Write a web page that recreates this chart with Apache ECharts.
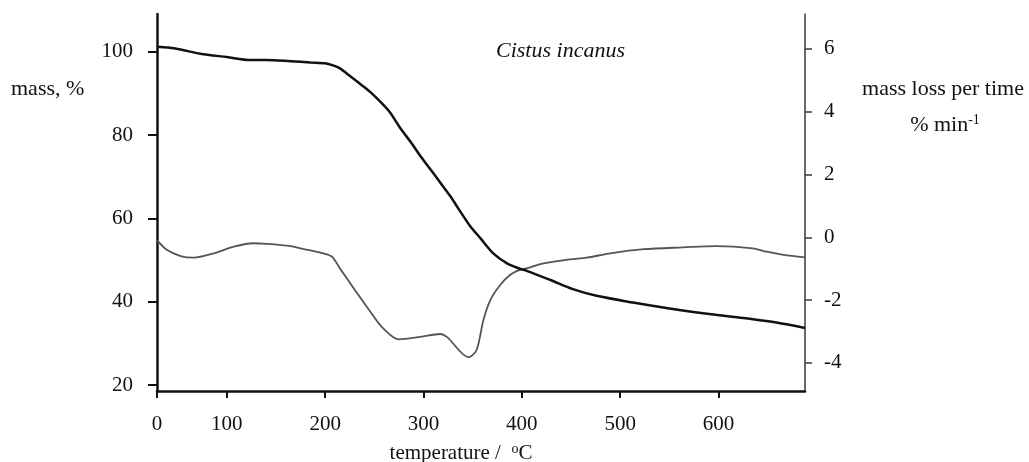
<!DOCTYPE html>
<html>
<head>
<meta charset="utf-8">
<script src="https://cdn.jsdelivr.net/npm/echarts@6/dist/echarts.min.js"></script>
<style>
html,body{margin:0;padding:0;background:#fff;}
#chart{width:1029px;height:462px;}
</style>
</head>
<body>
<div id="chart"></div>
<script>
// ---- data ----
const massTemp = [29, 40, 53, 73, 100, 124, 140, 165, 185, 200, 208, 215, 225, 236, 246, 256, 266, 276, 287, 297, 307, 317, 327, 337, 347, 358, 371, 385, 398, 405, 429, 452, 476, 513, 547, 595, 635, 659, 688];
const massValues = [101.2, 101.0, 100.5, 99.5, 98.7, 98.0, 98.0, 97.7, 97.4, 97.2, 96.7, 96.0, 94.2, 92.2, 90.3, 88.0, 85.4, 81.8, 78.3, 74.9, 71.8, 68.6, 65.4, 61.8, 58.3, 55.2, 51.6, 49.2, 47.9, 47.4, 45.2, 43.0, 41.4, 39.8, 38.5, 36.9, 35.8, 35.0, 33.7];

const dtgTemp = [29, 39, 53, 66, 87, 107, 127, 141, 165, 175, 198, 207, 215, 229, 246, 259, 275, 297, 317, 324, 346, 354, 361, 368, 378, 388, 398, 405, 422, 449, 466, 490, 524, 564, 598, 635, 649, 666, 688];
const dtgValues = [-0.09, -0.40, -0.60, -0.65, -0.51, -0.30, -0.19, -0.21, -0.28, -0.35, -0.51, -0.62, -0.99, -1.62, -2.37, -2.90, -3.25, -3.17, -3.08, -3.18, -3.82, -3.59, -2.63, -2.00, -1.52, -1.20, -1.04, -0.99, -0.83, -0.70, -0.65, -0.51, -0.38, -0.32, -0.28, -0.35, -0.46, -0.56, -0.64];

const xTickValues = [29, 100, 200, 300, 400, 500, 600];
const xTickLabels = ['0', '100', '200', '300', '400', '500', '600'];
const massTicks = [20, 40, 60, 80, 100];
const dtgTicks = [-4, -2, 0, 2, 4, 6];

const titleText = 'Cistus incanus';
const massName = 'mass, %';
const dtgName1 = 'mass loss per time';
const xName = 'temperature /  ';

// ---- chart ----
const FONT = "'Liberation Serif', 'Times New Roman', serif";
const chart = echarts.init(document.getElementById('chart'), null, {renderer: 'canvas'});

const massData = massTemp.map((t, i) => [t, massValues[i]]);
const dtgData = dtgTemp.map((t, i) => [t, dtgValues[i]]);

chart.setOption({
  animation: false,
  backgroundColor: '#ffffff',
  title: {
    text: titleText,
    left: 491,
    top: 35,
    textStyle: {fontFamily: FONT, fontStyle: 'italic', fontWeight: 'normal', fontSize: 22, color: '#111'}
  },
  grid: {left: 157, right: 224, top: 14, bottom: 71, containLabel: false},
  xAxis: {
    type: 'value',
    min: 29,
    max: 688,
    axisLine: {show: true, onZero: false, lineStyle: {color: '#111', width: 2.5}},
    axisTick: {show: true, inside: false, length: 7, customValues: xTickValues, lineStyle: {color: '#111', width: 2}},
    axisLabel: {
      customValues: xTickValues,
      margin: 23,
      fontFamily: FONT, fontSize: 21, color: '#111',
      formatter: function (v) {
        const i = xTickValues.indexOf(v);
        return i >= 0 ? xTickLabels[i] : '';
      }
    },
    splitLine: {show: false}
  },
  yAxis: [
    {
      type: 'value',
      position: 'left',
      min: 18.56,
      max: 109.04,
      axisLine: {show: true, onZero: false, lineStyle: {color: '#111', width: 2.5}},
      axisTick: {show: true, inside: false, length: 9, customValues: massTicks, lineStyle: {color: '#111', width: 2}},
      axisLabel: {customValues: massTicks, margin: 24, fontFamily: FONT, fontSize: 21, color: '#111'},
      splitLine: {show: false}
    },
    {
      type: 'value',
      position: 'right',
      min: -4.895,
      max: 7.111,
      axisLine: {show: true, onZero: false, lineStyle: {color: '#444', width: 1.6}},
      axisTick: {show: true, inside: false, length: 7, customValues: dtgTicks, lineStyle: {color: '#444', width: 1.6}},
      axisLabel: {customValues: dtgTicks, margin: 19, fontFamily: FONT, fontSize: 21, color: '#111'},
      splitLine: {show: false}
    }
  ],
  graphic: [
    {type: 'text', left: 11, top: 78, style: {text: massName, font: '22px ' + FONT, fill: '#111'}},
    {type: 'text', x: 943, y: 89, style: {text: dtgName1, font: '22px ' + FONT, fill: '#111', textAlign: 'center', textVerticalAlign: 'middle'}},
    {type: 'text', x: 945, y: 125, style: {
      text: '% min{sup|-1}',
      font: '22px ' + FONT, fill: '#111', textAlign: 'center', textVerticalAlign: 'middle',
      rich: {sup: {fontFamily: FONT, fontSize: 14, verticalAlign: 'top', padding: [0, 0, 10, 0], fill: '#111'}}
    }},
    {type: 'text', x: 461, y: 453, style: {
      text: xName + '{sup|o}C',
      font: '21px ' + FONT, fill: '#111', textAlign: 'center', textVerticalAlign: 'middle',
      rich: {sup: {fontFamily: FONT, fontSize: 14, padding: [0, 0, 8, 0], fill: '#111'}}
    }}
  ],
  series: [
    {
      type: 'line',
      name: 'DTG',
      yAxisIndex: 1,
      data: dtgData,
      showSymbol: false,
      smooth: 0.3,
      lineStyle: {color: '#555', width: 1.8},
      z: 2
    },
    {
      type: 'line',
      name: 'mass',
      yAxisIndex: 0,
      data: massData,
      showSymbol: false,
      smooth: 0.3,
      lineStyle: {color: '#111', width: 2.5},
      z: 3
    }
  ]
});
</script>
</body>
</html>
